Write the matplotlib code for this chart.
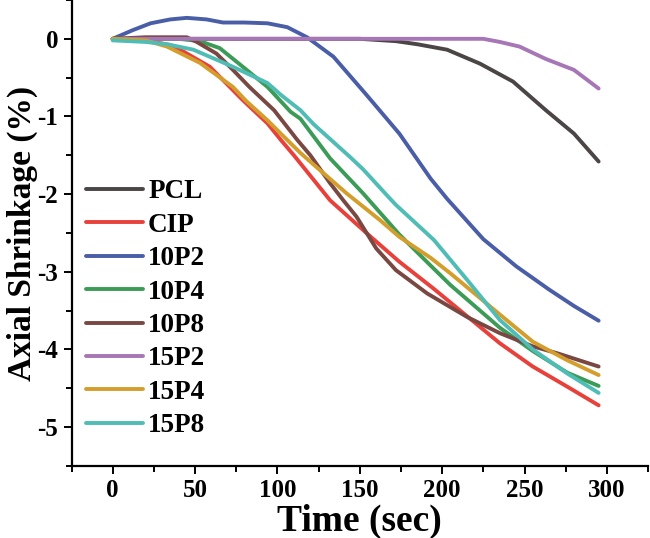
import matplotlib
matplotlib.use("Agg")
import matplotlib.pyplot as plt
from matplotlib.ticker import MultipleLocator

plt.rcParams['font.family'] = 'Liberation Serif'
plt.rcParams['font.weight'] = 'bold'
plt.rcParams['axes.unicode_minus'] = False

t_pcl = [0, 50, 100, 150, 172, 185, 203, 223, 243, 263, 280, 295]
v_pcl = [0, 0, 0, 0, -0.03, -0.07, -0.14, -0.32, -0.55, -0.92, -1.22, -1.58]

t_cip = [0, 20, 35, 41, 59, 79, 94, 102, 110, 132, 154, 174, 195, 215, 235, 255, 276, 295]
v_cip = [0, -0.02, -0.08, -0.14, -0.36, -0.79, -1.09, -1.30, -1.50, -2.08, -2.50, -2.87,
         -3.22, -3.57, -3.92, -4.22, -4.48, -4.72]

t_10p2 = [0, 12, 23, 35, 45, 57, 67, 80, 94, 106, 118, 134, 154, 174, 193, 203, 225, 245,
          265, 280, 295]
v_10p2 = [0, 0.11, 0.20, 0.25, 0.27, 0.25, 0.21, 0.21, 0.20, 0.15, 0.02, -0.23, -0.72,
          -1.22, -1.80, -2.06, -2.58, -2.93, -3.23, -3.44, -3.63]

t_10p4 = [0, 40, 53, 65, 79, 94, 108, 114, 132, 152, 174, 193, 205, 235, 255, 276, 295]
v_10p4 = [0, 0, -0.03, -0.12, -0.36, -0.62, -0.94, -1.03, -1.54, -1.99, -2.52, -2.92,
          -3.17, -3.72, -4.02, -4.30, -4.47]

t_10p8 = [0, 20, 45, 51, 63, 73, 83, 92, 98, 112, 120, 132, 140, 148, 160, 172, 191, 215,
          235, 255, 270, 295]
v_10p8 = [0, 0.02, 0.02, -0.04, -0.19, -0.40, -0.62, -0.80, -0.92, -1.30, -1.50, -1.86,
          -2.08, -2.29, -2.70, -2.98, -3.28, -3.58, -3.79, -3.96, -4.05, -4.22]

t_15p2 = [0, 100, 200, 225, 235, 247, 263, 280, 295]
v_15p2 = [0, 0, 0, 0, -0.04, -0.10, -0.26, -0.40, -0.64]

t_15p4 = [0, 20, 33, 53, 73, 81, 94, 102, 114, 122, 142, 162, 174, 193, 205, 235, 255, 276, 295]
v_15p4 = [0, -0.02, -0.10, -0.31, -0.62, -0.80, -1.05, -1.22, -1.47, -1.62, -1.99, -2.33,
          -2.55, -2.82, -3.02, -3.55, -3.90, -4.14, -4.33]

t_15p8 = [0, 20, 33, 49, 73, 94, 102, 114, 122, 144, 152, 168, 172, 195, 215, 235, 255, 276, 295]
v_15p8 = [-0.02, -0.04, -0.07, -0.14, -0.36, -0.57, -0.72, -0.92, -1.10, -1.52, -1.68, -2.05,
          -2.14, -2.59, -3.10, -3.62, -4.00, -4.31, -4.56]

series = [
    ('PCL', t_pcl, v_pcl, '#4b4545'),
    ('CIP', t_cip, v_cip, '#e8413c'),
    ('10P2', t_10p2, v_10p2, '#4a5ea8'),
    ('10P4', t_10p4, v_10p4, '#3b9b57'),
    ('10P8', t_10p8, v_10p8, '#794843'),
    ('15P2', t_15p2, v_15p2, '#a676b6'),
    ('15P4', t_15p4, v_15p4, '#d39e2c'),
    ('15P8', t_15p8, v_15p8, '#4fbdb5'),
]

fig = plt.figure(figsize=(6.5, 5.38), dpi=100)
ax = fig.add_axes([0.110, 0.134, 0.887, 0.866])

for name, t, v, c in series:
    ax.plot(t, v, color=c, lw=2.8, label=name, solid_capstyle='round',
            solid_joinstyle='round')

ax.set_xlim(-25, 325)
ax.set_ylim(-5.5, 0.5)
ax.xaxis.set_major_locator(MultipleLocator(50))
ax.xaxis.set_minor_locator(MultipleLocator(25))
ax.yaxis.set_major_locator(MultipleLocator(1))
ax.yaxis.set_minor_locator(MultipleLocator(0.5))

ax.spines['top'].set_visible(False)
ax.spines['right'].set_visible(False)
for s in ('left', 'bottom'):
    ax.spines[s].set_linewidth(1.6)
ax.tick_params(which='major', direction='out', length=6, width=1.4, labelsize=18)
ax.tick_params(which='minor', direction='out', length=4, width=1.4)

ax.set_xlabel('Time (sec)', fontsize=27, fontweight='bold')
ax.xaxis.set_label_coords(0.5, -0.082)
ax.set_ylabel('Axial Shrinkage (%)', fontsize=24, fontweight='bold')
ax.yaxis.set_label_coords(-0.058, 0.5)

ax.legend(loc='upper left', bbox_to_anchor=(0.006, 0.638), frameon=False,
          fontsize=19.5, handlelength=2.1, handletextpad=0.2, labelspacing=0.31,
          borderaxespad=0)

fig.savefig('out.png', dpi=100)
